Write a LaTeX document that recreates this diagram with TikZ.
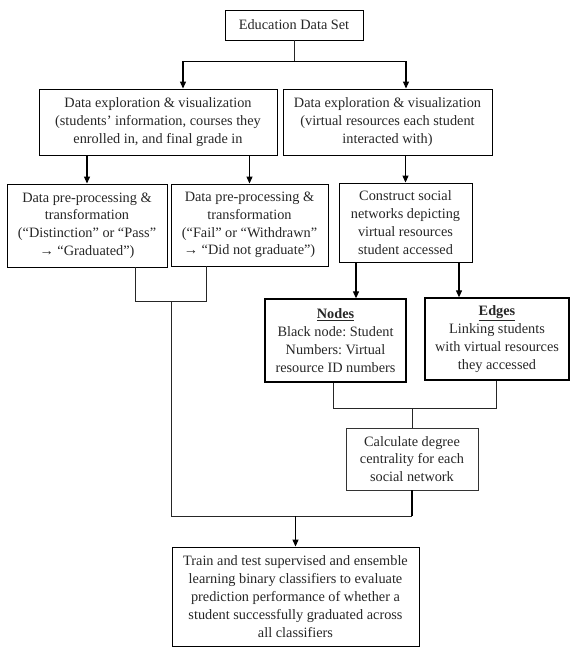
\documentclass[tikz,border=0pt]{standalone}
\usepackage{fontspec}
\setmainfont{Liberation Serif}
\usetikzlibrary{arrows.meta,calc}
\frenchspacing
\begin{document}
\begin{tikzpicture}[x=1pt,y=-1pt,
  box/.style={draw=black,line width=0.9pt,align=center,inner sep=0pt,
    font=\fontsize{14.3}{17.8}\selectfont\frenchspacing,text=black!85},
  boldbox/.style={box,line width=1.3pt},
  thinbox/.style={box,line width=0.7pt,draw=black!80},
  arr/.style={line width=1.1pt,-{Triangle[length=7pt,width=6pt]}},
  ln/.style={line width=0.8pt,draw=black!85},
]
\useasboundingbox (0,0) rectangle (576,656);

\node[box,minimum width=138pt,minimum height=30pt] (edu) at (294,25) {Education Data Set};
\node[box,minimum width=238pt,minimum height=66pt] (de1) at (158,122)
  {Data exploration \& visualization\\(students’ information, courses they\\enrolled in, and final grade in};
\node[box,minimum width=209pt,minimum height=66pt] (de2) at (387.5,122)
  {Data exploration \& visualization\\(virtual resources each student\\interacted with)};
\node[box,minimum width=160pt,minimum height=83pt] (pp1) at (87,225.5)
  {Data pre-processing \&\\transformation\\(“Distinction” or “Pass”\\→ “Graduated”)};
\node[box,minimum width=157pt,minimum height=82pt] (pp2) at (249.5,225)
  {Data pre-processing \&\\transformation\\(“Fail” or “Withdrawn”\\→ “Did not graduate”)};
\node[box,minimum width=133pt,minimum height=79pt] (sn) at (405.5,222.5)
  {Construct social\\networks depicting\\virtual resources\\student accessed};
\node[boldbox,minimum width=141pt,minimum height=83pt] (nod) at (335.5,340.5)
  {\underline{\textbf{Nodes}}\\Black node: Student\\Numbers: Virtual\\resource ID numbers};
\node[boldbox,minimum width=144pt,minimum height=82pt] (edg) at (497,339)
  {\underline{\textbf{Edges}}\\Linking students\\with virtual resources\\they accessed};
\node[thinbox,minimum width=132pt,minimum height=62pt] (calc) at (412,459)
  {Calculate degree\\centrality for each\\social network};
\node[box,minimum width=247pt,minimum height=99pt] (train) at (295.5,596.5)
  {Train and test supervised and ensemble\\learning binary classifiers to evaluate\\prediction performance of whether a\\student successfully graduated across\\all classifiers};

% top split
\coordinate (t0) at (294,61);
\coordinate (tl) at (183,61);
\coordinate (tr) at (406,61);
\draw[ln] (edu.south) -- (t0);
\draw[line width=1pt] (tl) -- (tr);
\draw[arr] (tl) -- (tl |- de1.north);
\draw[arr] (tr) -- (tr |- de2.north);

% second level
\draw[arr] (de1.south -| pp1.north) -- (pp1.north);
\draw[arr] (de1.south -| pp2.north) -- (pp2.north);
\draw[arr] (de2.south -| sn.north) -- (sn.north);

% left merge
\coordinate (m1) at (135,301);
\coordinate (m2) at (206,301);
\coordinate (mc) at (171,301);
\coordinate (b1) at (171,516);
\coordinate (b2) at (412,516);
\coordinate (bt) at (295.5,516);
\draw[ln] (pp1.south -| m1) -- (m1) -- (m2) -- (pp2.south -| m2);
\draw[ln] (mc) -- (b1) -- (b2);

% social network split
\coordinate (s1) at (356,0);
\coordinate (s2) at (459,0);
\draw[arr] (sn.south -| s1) -- (nod.north -| s1);
\draw[arr] (sn.south -| s2) -- (edg.north -| s2);

% nodes/edges merge
\coordinate (n1) at (333,408);
\coordinate (n2) at (496,408);
\draw[ln] (nod.south -| n1) -- (n1) -- (n2) -- (edg.south -| n2);
\draw[ln] (calc.north |- n1) -- (calc.north);

% calc to train
\draw[line width=1.1pt] (calc.south) -- (b2);
\draw[arr] (bt) -- (train.north);
\end{tikzpicture}
\end{document}
